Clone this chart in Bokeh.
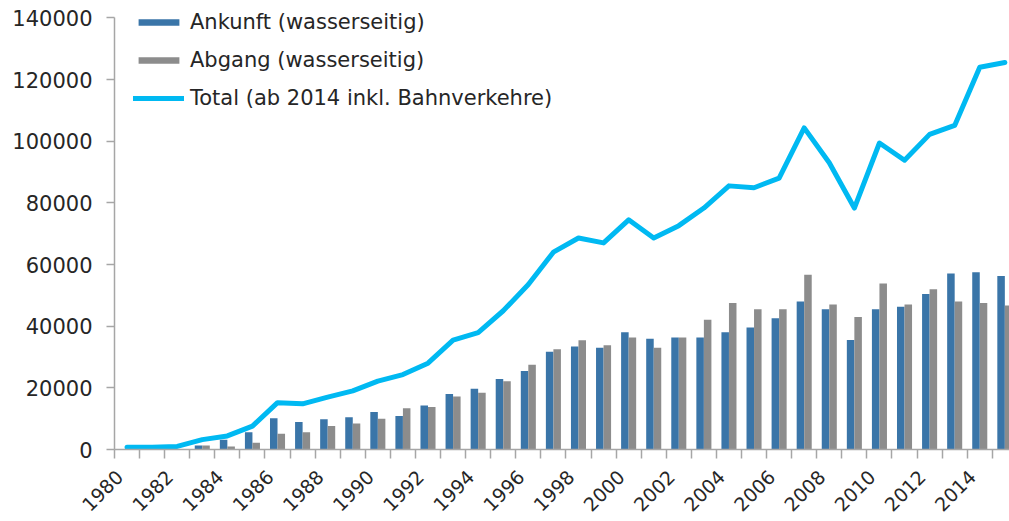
import math
from bokeh.plotting import figure
from bokeh.models import (ColumnDataSource, FixedTicker, Legend, LegendItem,
                          BasicTickFormatter, Range1d, CustomJSTickFormatter)
from bokeh.embed import file_html
from bokeh.resources import INLINE

years = list(range(1980, 2016))
ankunft = [0, 0, 0, 1300, 3200, 5600, 10100, 8900, 9800, 10500,
           12200, 10900, 14300, 18000, 19700, 22900, 25500, 31700, 33400, 33000,
           38000, 35900, 36300, 36300, 38000, 39600, 42600, 48000, 45500, 35500,
           45500, 46300, 50400, 57100, 57500, 56300]
abgang = [0, 0, 0, 1300, 1000, 2200, 5100, 5600, 7600, 8400,
          10000, 13400, 13800, 17200, 18400, 22100, 27500, 32500, 35400, 33800,
          36300, 33000, 36300, 42100, 47500, 45500, 45500, 56700, 47000, 43000,
          53800, 47000, 52000, 48000, 47500, 46700]
total = [700, 700, 1000, 3200, 4400, 7600, 15200, 14800, 17000, 19000,
         22200, 24300, 28000, 35500, 37900, 45000, 53500, 64000, 68600, 67000,
         74500, 68600, 72600, 78300, 85500, 84900, 88000, 104300, 93000, 78300,
         99400, 93800, 102200, 105100, 124000, 125500]
y_ticks = [0, 20000, 40000, 60000, 80000, 100000, 120000, 140000]
label_years = list(range(1980, 2016, 2))
series_names = ["Ankunft (wasserseitig)", "Abgang (wasserseitig)",
                "Total (ab 2014 inkl. Bahnverkehre)"]

FONT = "DejaVu Sans"
BLUE = "#3a75a8"
GRAY = "#8c8c8c"
CYAN = "#00b9f2"
AXIS = "#a6a6a6"
TEXT = "#262626"

src = ColumnDataSource(dict(
    x_a=[y - 0.15 for y in years],
    x_b=[y + 0.15 for y in years],
    x=years, a=ankunft, b=abgang, t=total))

p = figure(width=1009, height=520, output_backend="svg", toolbar_location=None,
           x_range=Range1d(1979.5, 1979.5 + 895 / 25.08),
           y_range=Range1d(0, 144000),
           min_border_left=114, min_border_right=0, min_border_top=5,
           min_border_bottom=71)
p.outline_line_color = None
p.xgrid.visible = False
p.ygrid.visible = False
p.background_fill_color = "white"
p.border_fill_color = "white"

rb = p.vbar(x="x_a", top="a", width=0.3, source=src, fill_color=BLUE,
            line_color=None)
rg = p.vbar(x="x_b", top="b", width=0.3, source=src, fill_color=GRAY,
            line_color=None)
rl = p.line(x="x", y="t", source=src, line_color=CYAN, line_width=5,
            line_join="round", line_cap="round")

# axes
xa = p.xaxis[0]
xa.ticker = FixedTicker(ticks=[y - 0.3 for y in label_years],
                        minor_ticks=[y - 0.5 for y in years] + [2015.5])
xa.major_tick_line_color = None
xa.major_tick_out = 0
xa.major_tick_in = 0
xa.minor_tick_line_color = AXIS
xa.minor_tick_line_width = 1.5
xa.minor_tick_out = 9
xa.minor_tick_in = 0
xa.axis_line_color = AXIS
xa.axis_line_width = 1.5
xa.major_label_orientation = math.pi / 4
xa.major_label_text_font = FONT
xa.major_label_text_font_size = "19px"
xa.major_label_text_color = TEXT
xa.major_label_standoff = 15
xa.formatter = CustomJSTickFormatter(code="return String(Math.round(tick))")

ya = p.yaxis[0]
ya.ticker = FixedTicker(ticks=y_ticks, minor_ticks=[])
ya.formatter = BasicTickFormatter(use_scientific=False)
ya.bounds = (0, 140000)
ya.major_tick_out = 8
ya.major_tick_in = 0
ya.major_tick_line_color = AXIS
ya.major_tick_line_width = 1.5
ya.minor_tick_line_color = None
ya.axis_line_color = AXIS
ya.axis_line_width = 1.5
ya.major_label_text_font = FONT
ya.major_label_text_font_size = "21px"
ya.major_label_text_color = TEXT
ya.major_label_standoff = 14

legend = Legend(items=[LegendItem(label=series_names[0], renderers=[rb]),
                       LegendItem(label=series_names[1], renderers=[rg]),
                       LegendItem(label=series_names[2], renderers=[rl])],
                location=(19, 339), orientation="vertical",
                glyph_width=51, glyph_height=8, label_height=24, spacing=14,
                label_standoff=6, padding=0, margin=0,
                border_line_color=None, background_fill_alpha=0,
                label_text_font=FONT, label_text_font_size="21px",
                label_text_color=TEXT)
p.add_layout(legend, "center")

open("out.html", "w").write(file_html(p, INLINE))
